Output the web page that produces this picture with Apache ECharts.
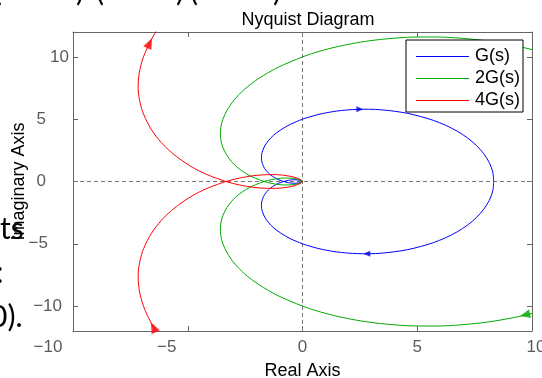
<!DOCTYPE html>
<html>
<head>
<meta charset="utf-8">
<script src="https://cdn.jsdelivr.net/npm/echarts@6/dist/echarts.min.js"></script>
<style>
  html, body { margin: 0; padding: 0; background: #fff; }
  #chart { width: 542px; height: 378px; }
</style>
</head>
<body>
<div id="chart"></div>
<script>
// Nyquist contours of G(s), 2G(s), 4G(s): [real, imaginary] pairs.
// "Lower" = positive frequencies (w: 0 -> inf), "Upper" = negative frequencies (w: -inf -> 0).
const gLower = [[8.33,0],[8.29,-0.76],[8.14,-1.51],[7.90,-2.22],[7.58,-2.89],[7.19,-3.50],[6.74,-4.04],[6.24,-4.51],[5.70,-4.91],[5.14,-5.22],[4.58,-5.47],[4.01,-5.64],[3.46,-5.75],[2.92,-5.80],[2.41,-5.79],[1.93,-5.74],[1.47,-5.65],[1.05,-5.52],[0.67,-5.37],[0.32,-5.19],[0,-5.00],[-0.54,-4.58],[-0.95,-4.14],[-1.27,-3.70],[-1.49,-3.27],[-1.64,-2.87],[-1.73,-2.50],[-1.78,-2.16],[-1.79,-1.86],[-1.77,-1.59],[-1.73,-1.35],[-1.65,-1.04],[-1.54,-0.79],[-1.43,-0.58],[-1.31,-0.42],[-1.16,-0.25],[-1.03,-0.13],[-0.84,-0.01],[-0.69,0.07],[-0.53,0.12],[-0.38,0.14],[-0.28,0.14],[-0.16,0.11],[-0.09,0.09],[-0.06,0.07],[-0.03,0.04],[-0.01,0.02],[0,0]];
const gUpper = [[0,0],[-0.01,-0.02],[-0.03,-0.04],[-0.06,-0.07],[-0.09,-0.09],[-0.16,-0.11],[-0.28,-0.14],[-0.38,-0.14],[-0.53,-0.12],[-0.69,-0.07],[-0.84,0.01],[-1.03,0.13],[-1.16,0.25],[-1.31,0.42],[-1.43,0.58],[-1.54,0.79],[-1.65,1.04],[-1.73,1.35],[-1.77,1.59],[-1.79,1.86],[-1.78,2.16],[-1.73,2.50],[-1.64,2.87],[-1.49,3.27],[-1.27,3.70],[-0.95,4.14],[-0.54,4.58],[0,5.00],[0.32,5.19],[0.67,5.37],[1.05,5.52],[1.47,5.65],[1.93,5.74],[2.41,5.79],[2.92,5.80],[3.46,5.75],[4.01,5.64],[4.58,5.47],[5.14,5.22],[5.70,4.91],[6.24,4.51],[6.74,4.04],[7.19,3.50],[7.58,2.89],[7.90,2.22],[8.14,1.51],[8.29,0.76],[8.33,0]];

const g2Lower = [[12.47,-9.02],[11.40,-9.81],[10.29,-10.45],[9.16,-10.94],[8.03,-11.29],[6.92,-11.50],[5.85,-11.60],[4.82,-11.59],[3.85,-11.48],[2.94,-11.30],[2.11,-11.05],[1.33,-10.74],[0.63,-10.39],[0,-10.00],[-1.07,-9.16],[-1.90,-8.28],[-2.53,-7.40],[-2.98,-6.54],[-3.28,-5.74],[-3.47,-5.00],[-3.56,-4.33],[-3.58,-3.72],[-3.54,-3.17],[-3.46,-2.69],[-3.29,-2.08],[-3.08,-1.57],[-2.86,-1.17],[-2.63,-0.84],[-2.33,-0.50],[-2.05,-0.26],[-1.69,-0.01],[-1.38,0.14],[-1.06,0.24],[-0.77,0.28],[-0.56,0.27],[-0.32,0.23],[-0.19,0.17],[-0.12,0.13],[-0.05,0.08],[-0.03,0.05],[0,0]];
const g2Upper = [[0,0],[-0.03,-0.05],[-0.05,-0.08],[-0.12,-0.13],[-0.19,-0.17],[-0.32,-0.23],[-0.56,-0.27],[-0.77,-0.28],[-1.06,-0.24],[-1.38,-0.14],[-1.69,0.01],[-2.05,0.26],[-2.33,0.50],[-2.63,0.84],[-2.86,1.17],[-3.08,1.57],[-3.29,2.08],[-3.46,2.69],[-3.54,3.17],[-3.58,3.72],[-3.56,4.33],[-3.47,5.00],[-3.28,5.74],[-2.98,6.54],[-2.53,7.40],[-1.90,8.28],[-1.07,9.16],[0,10.00],[0.63,10.39],[1.33,10.74],[2.11,11.05],[2.94,11.30],[3.85,11.48],[4.82,11.59],[5.85,11.60],[6.92,11.50],[8.03,11.29],[9.16,10.94],[10.29,10.45],[11.40,9.81],[12.47,9.02]];

const g4Lower = [[-5.96,-13.09],[-6.29,-12.28],[-6.56,-11.49],[-6.93,-10.00],[-7.12,-8.65],[-7.16,-7.44],[-7.08,-6.35],[-6.92,-5.38],[-6.58,-4.15],[-6.16,-3.14],[-5.71,-2.33],[-5.25,-1.68],[-4.66,-1.00],[-4.10,-0.51],[-3.37,-0.02],[-2.76,0.27],[-2.12,0.47],[-1.53,0.55],[-1.12,0.55],[-0.63,0.45],[-0.37,0.35],[-0.23,0.26],[-0.10,0.16],[-0.05,0.10],[-0.01,0.02],[0,0]];
const g4Upper = [[0,0],[-0.01,-0.02],[-0.05,-0.10],[-0.10,-0.16],[-0.23,-0.26],[-0.37,-0.35],[-0.63,-0.45],[-1.12,-0.55],[-1.53,-0.55],[-2.12,-0.47],[-2.76,-0.27],[-3.37,0.02],[-4.10,0.51],[-4.66,1.00],[-5.25,1.68],[-5.71,2.33],[-6.16,3.14],[-6.58,4.15],[-6.92,5.38],[-7.08,6.35],[-7.16,7.44],[-7.12,8.65],[-6.93,10.00],[-6.56,11.49],[-6.29,12.28],[-5.96,13.09]];

// Direction arrows on the contours: [real, imaginary, heading in degrees (ccw from up)]
const gArrows  = [[2.5,5.79,-90],[2.8,-5.80,90]];
const g2Arrows = [[9.7,-10.7,103]];
const g4Arrows = [[-6.66,11.1,-25],[-6.5,-11.7,25]];

const seriesNames = ['G(s)', '2G(s)', '4G(s)'];
const xTicks = [-10, -5, 0, 5, 10];
const yTicks = [-10, -5, 0, 5, 10];

const COLORS = ['#0000ff', '#00aa00', '#ff0000'];
const AXIS_GRAY = '#666666';
const LABEL_GRAY = '#5a5a5a';
const FONT = '"Liberation Sans", Arial, sans-serif';

const fmtNum = v => (v < 0 ? '\u2212' + Math.abs(v) : String(v));

// Per-label nudges for tick text
const xRichKey = { '-10': 'a', '-5': 'b', '0': 'n', '5': 'n', '10': 'c' };
const yRichKey = { '-10': 'a', '-5': 'b', '0': 'c', '5': 'c', '10': 'n' };

const chart = echarts.init(document.getElementById('chart'), null, { renderer: 'canvas' });

const arrowSeries = (data, color, size) => ({
  type: 'scatter',
  xAxisIndex: 0, yAxisIndex: 0,
  data: data,
  symbol: 'triangle',
  symbolSize: size,
  symbolRotate: (val) => val[2],
  itemStyle: { color: color },
  z: 5,
  silent: true
});

const lineSeries = (name, lower, upper, color) => ({
  name: name,
  type: 'line',
  xAxisIndex: 0, yAxisIndex: 0,
  data: lower.concat(upper),
  showSymbol: false,
  smooth: 0.3,
  clip: true,
  lineStyle: { color: color, width: 1 },
  itemStyle: { color: color },
  z: 4
});

const frameAxis = (position, min, max, ticks) => ({
  type: 'value', position: position,
  min: min, max: max,
  axisLine: { show: true, onZero: false, lineStyle: { color: AXIS_GRAY, width: 1 } },
  axisTick: { show: true, inside: true, length: 5, customValues: ticks, lineStyle: { color: AXIS_GRAY } },
  axisLabel: { show: false },
  splitLine: { show: false }
});

const option = {
  animation: false,
  backgroundColor: '#ffffff',
  title: {
    text: 'Nyquist Diagram',
    left: 303, top: 6,
    textAlign: 'center',
    textStyle: { fontFamily: FONT, fontSize: 18, fontWeight: 'normal', color: '#000' }
  },
  grid: { left: 73, right: 10, top: 32, bottom: 47, containLabel: false, outerBoundsMode: 'none' },
  legend: {
    data: seriesNames,
    orient: 'vertical',
    right: 19, top: 40,
    backgroundColor: '#ffffff',
    borderColor: '#000000',
    borderWidth: 1,
    padding: [7, 3, 2, 10],
    itemGap: 3,
    itemWidth: 53,
    itemHeight: 1,
    icon: 'rect',
    selectedMode: false,
    textStyle: { fontFamily: FONT, fontSize: 18, color: '#000', lineHeight: 19, padding: [0, 0, 0, 1] },
    z: 10
  },
  xAxis: [Object.assign(frameAxis('bottom', -10, 10, xTicks), {
    name: 'Real Axis', nameLocation: 'middle', nameGap: 31, nameMoveOverlap: false,
    nameTextStyle: { fontFamily: FONT, fontSize: 18, color: '#000' },
    axisLabel: {
      show: true,
      customValues: xTicks,
      margin: 8,
      fontFamily: FONT, fontSize: 17, color: LABEL_GRAY,
      formatter: v => '{' + xRichKey[String(v)] + '|' + fmtNum(v) + '}',
      rich: {
        n: { fontFamily: FONT, fontSize: 17, color: LABEL_GRAY },
        a: { fontFamily: FONT, fontSize: 17, color: LABEL_GRAY, padding: [0, 50, 0, 0] },
        b: { fontFamily: FONT, fontSize: 17, color: LABEL_GRAY, padding: [0, 42, 0, 0] },
        c: { fontFamily: FONT, fontSize: 17, color: LABEL_GRAY, padding: [0, 0, 0, 8] }
      }
    }
  }), frameAxis('top', -10, 10, xTicks)],
  yAxis: [Object.assign(frameAxis('left', -12, 12, yTicks), {
    name: 'Imaginary Axis', nameLocation: 'middle', nameGap: 45, nameMoveOverlap: false,
    nameTextStyle: { fontFamily: FONT, fontSize: 18, color: '#000' },
    axisLabel: {
      show: true,
      customValues: yTicks,
      margin: 4,
      fontFamily: FONT, fontSize: 17, color: LABEL_GRAY,
      formatter: v => '{' + yRichKey[String(v)] + '|' + fmtNum(v) + '}',
      rich: {
        n: { fontFamily: FONT, fontSize: 17, color: LABEL_GRAY },
        a: { fontFamily: FONT, fontSize: 17, color: LABEL_GRAY, padding: [0, 7, 0, 0] },
        b: { fontFamily: FONT, fontSize: 17, color: LABEL_GRAY, padding: [0, 21, 0, 0] },
        c: { fontFamily: FONT, fontSize: 17, color: LABEL_GRAY, padding: [0, 23, 0, 0] }
      }
    }
  }), frameAxis('right', -12, 12, yTicks)],
  series: [
    Object.assign(lineSeries(seriesNames[0], gLower, gUpper, COLORS[0]), {
      markLine: {
        silent: true,
        symbol: 'none',
        label: { show: false },
        lineStyle: { color: '#777777', type: [4, 3], width: 1 },
        data: [{ xAxis: 0 }, { yAxis: 0 }],
        z: 1
      }
    }),
    lineSeries(seriesNames[1], g2Lower, g2Upper, COLORS[1]),
    lineSeries(seriesNames[2], g4Lower, g4Upper, COLORS[2]),
    arrowSeries(gArrows, COLORS[0], [6, 7]),
    arrowSeries(g2Arrows, COLORS[1], [9, 10]),
    arrowSeries(g4Arrows, COLORS[2], [9, 11])
  ],
  // Fragments of surrounding page text around the figure
  graphic: [
    { type: 'text', left: -6, top: -24, z: 20, style: { text: '(', font: '30px Lato, sans-serif', fill: '#000' } },
    { type: 'text', left: 76, top: -24, z: 20, style: { text: ')', font: '30px Lato, sans-serif', fill: '#000' } },
    { type: 'text', left: 96, top: -24, z: 20, style: { text: '(', font: '30px Lato, sans-serif', fill: '#000' } },
    { type: 'text', left: 176, top: -24, z: 20, style: { text: ')', font: '30px Lato, sans-serif', fill: '#000' } },
    { type: 'text', left: 190, top: -24, z: 20, style: { text: '(', font: '30px Lato, sans-serif', fill: '#000' } },
    { type: 'text', left: 273, top: -24, z: 20, style: { text: ')', font: '30px Lato, sans-serif', fill: '#000' } },
    { type: 'text', left: 0, top: 214, z: 20, style: { text: 'ts', font: '30px Lato, sans-serif', fill: '#000' } },
    { type: 'text', left: -4, top: 258, z: 20, style: { text: ':', font: '30px Lato, sans-serif', fill: '#000' } },
    { type: 'text', left: -10, top: 302, z: 20, style: { text: '0).', font: '30px Lato, sans-serif', fill: '#000' } }
  ]
};

chart.setOption(option);
</script>
</body>
</html>
